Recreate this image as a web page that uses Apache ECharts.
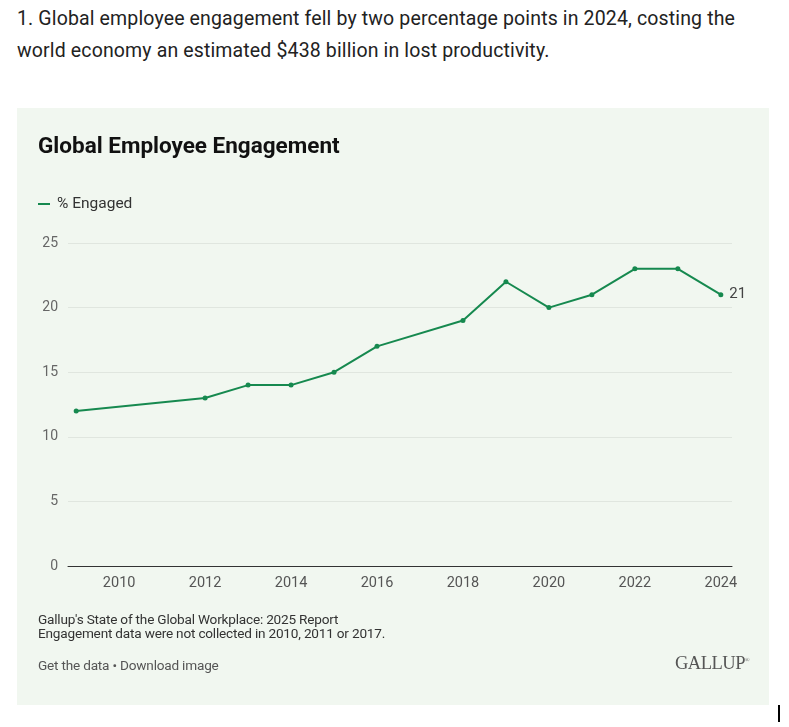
<!DOCTYPE html>
<html>
<head>
    <meta charset="UTF-8">
    <title>Global Employee Engagement</title>
    <script src="https://cdn.jsdelivr.net/npm/echarts@6/dist/echarts.min.js"></script>
    <style>
        body { margin: 0; background: #fff; font-family: Roboto, "Noto Sans", sans-serif; width: 789px; height: 727px; overflow: hidden; position: relative; }
        #lead { position: absolute; left: 17px; top: 3px; width: 750px; font-size: 19.5px; line-height: 32px; color: #222; letter-spacing: 0.14px; }
        #panel { position: absolute; left: 17px; top: 108px; width: 752px; height: 597px; background: #f1f7f0; }
        #chart { position: absolute; left: 0; top: 0; width: 752px; height: 597px; }
        #notes { position: absolute; left: 21px; top: 504px; font-size: 13.6px; line-height: 14px; color: #333; letter-spacing: -0.2px; }
        #links { position: absolute; left: 21px; top: 549px; font-size: 13.6px; color: #555; letter-spacing: -0.2px; }
        #logo { position: absolute; right: 20px; top: 545px; font-family: "Liberation Serif", "DejaVu Serif", serif; font-size: 18.5px; color: #555; letter-spacing: -0.5px; }
        #caret { position: absolute; left: 778px; top: 705px; width: 2px; height: 17px; background: #000; }
    </style>
</head>
<body>
<div id="lead">1. Global employee engagement fell by two percentage points in 2024, costing the world economy an estimated $438 billion in lost productivity.</div>
<div id="panel">
    <div id="chart"></div>
    <div id="notes">Gallup's State of the Global Workplace: 2025 Report<br>Engagement data were not collected in 2010, 2011 or 2017.</div>
    <div id="links">Get the data • Download image</div>
    <div id="logo">GALLUP<sup style="font-size:6px">&reg;</sup></div>
</div>
<div id="caret"></div>
<script>
    // survey years and % engaged (no data for 2010, 2011, 2017)
    var years = [2009, 2012, 2013, 2014, 2015, 2016, 2018, 2019, 2020, 2021, 2022, 2023, 2024];
    var engaged = [12, 13, 14, 14, 15, 17, 19, 22, 20, 21, 23, 23, 21];
    var xTicks = [2010, 2012, 2014, 2016, 2018, 2020, 2022, 2024];
    var yTicks = [0, 5, 10, 15, 20, 25];

    var green = "#16894f";
    var points = [];
    for (var i = 0; i < years.length; i++) {
        points.push([years[i], engaged[i]]);
    }

    var chart = echarts.init(document.getElementById("chart"));
    var option = {
        textStyle: { fontFamily: "Roboto, 'Noto Sans', sans-serif" },
        title: {
            text: "Global Employee Engagement",
            left: 21,
            top: 28,
            padding: 0,
            textStyle: { fontSize: 22.5, fontWeight: "bold", color: "#111" }
        },
        legend: {
            data: ["% Engaged"],
            left: 21,
            top: 88,
            padding: 0,
            icon: "rect",
            itemWidth: 12,
            itemHeight: 2,
            itemGap: 10,
            textStyle: { fontSize: 15.5, color: "#333", padding: [0, 0, 0, 2] }
        },
        grid: { left: 51, right: 37, top: 135, bottom: 139, containLabel: false },
        xAxis: {
            type: "value",
            min: 2008.81,
            max: 2024.26,
            splitLine: { show: false },
            axisTick: { show: false },
            axisLine: { show: true, lineStyle: { color: "#333", width: 1 } },
            axisLabel: {
                customValues: xTicks,
                color: "#555",
                fontSize: 14.5,
                margin: 10,
                formatter: function (v) { return String(v); }
            }
        },
        yAxis: {
            type: "value",
            min: 0,
            max: 25,
            interval: 5,
            axisLine: { show: false },
            axisTick: { show: false },
            splitLine: { lineStyle: { color: "#e0e6df", width: 1 } },
            axisLabel: {
                customValues: yTicks,
                color: "#666",
                fontSize: 14,
                margin: 10
            }
        },
        series: [{
            name: "% Engaged",
            type: "line",
            data: points,
            color: green,
            symbol: "circle",
            symbolSize: 5,
            lineStyle: { width: 2, color: green },
            itemStyle: { color: green },
            label: {
                show: true,
                position: "right",
                distance: 6,
                color: "#444",
                fontSize: 15,
                formatter: function (p) {
                    return p.dataIndex === years.length - 1 ? String(p.value[1]) : "";
                }
            },
            animation: false
        }]
    };
    chart.setOption(option);
</script>
</body>
</html>
